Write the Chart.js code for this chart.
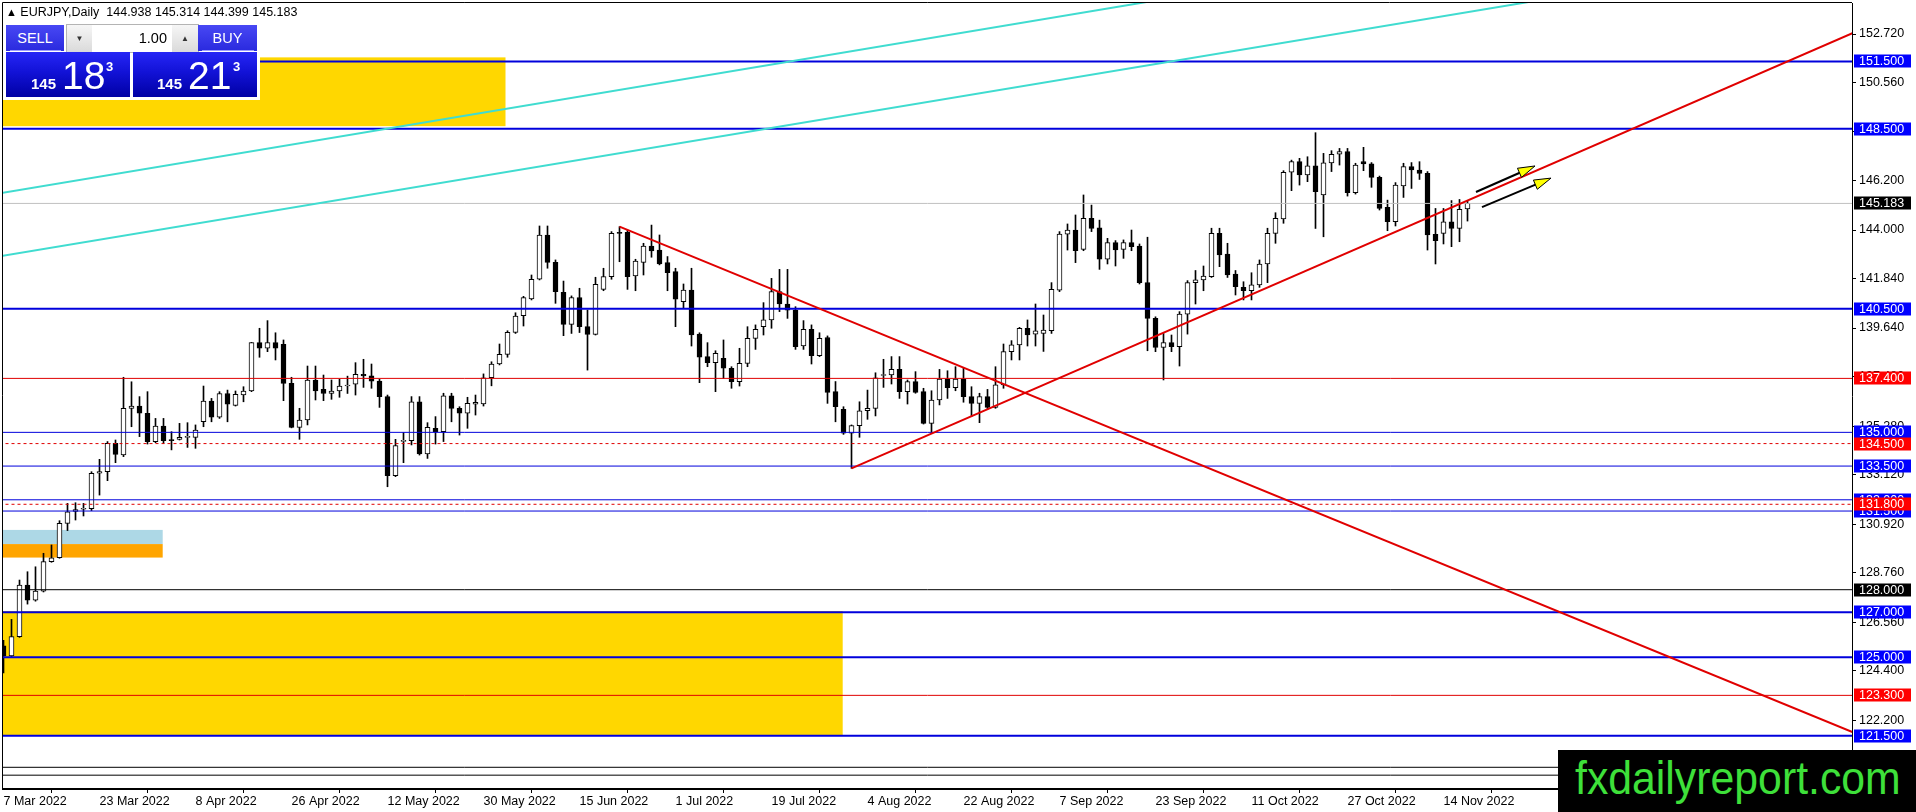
<!DOCTYPE html>
<html lang="en">
<head>
<meta charset="UTF-8">
<title>EURJPY,Daily</title>
<style>
    body { margin: 0; background: #fff; overflow: hidden; font-family: 'Liberation Sans', Arial, sans-serif; }
    #wrap { position: relative; width: 1916px; height: 812px; }
    #chart { position: absolute; left: 0; top: 0; }
    #head { position: absolute; left: 6px; top: 5px; font-size: 12.5px; line-height: 14px; color: #000; white-space: pre; }
    #head .tri { font-size: 11px; vertical-align: 0; }
    #panel { position: absolute; left: 3px; top: 23px; width: 257px; height: 77px; background: #fff; }
    .hd { position: absolute; top: 2px; height: 26px; line-height: 26px; color: #fff; font-size: 14.5px; text-align: center;
          background: linear-gradient(#4848f4, #2a2ade); }
    .hd:after { content: ''; position: absolute; left: 4px; right: 3px; bottom: 0; height: 1px; background: #9c9cff; }
    #sellHd { left: 3px; width: 58px; }
    #buyHd { left: 195px; width: 59px; }
    #lot { position: absolute; left: 63px; top: 1px; width: 131px; height: 27px; border: 1px solid #b4b4b4; background: #fff; }
    .spin { position: absolute; top: 0; width: 25px; height: 27px; line-height: 27px; text-align: center; font-size: 8px; color: #333;
            background: linear-gradient(#f6f6f6, #dadada); }
    #dn { left: 0; }
    #up { right: 0; width: 26px; }
    #lotVal { position: absolute; left: 25px; width: 75px; top: 0; height: 27px; line-height: 27px; text-align: right; font-size: 14.5px; color: #000; }
    .px { position: absolute; top: 29px; width: 124px; height: 45px; color: #fff;
          background: linear-gradient(#2626f6, #1212d6 45%, #0000a4); }
    #sellPx { left: 3px; }
    #buyPx { left: 130px; }
    .px span { position: absolute; line-height: 1; }
    .p1 { top: 24px; font-size: 15px; font-weight: bold; }
    .p2 { top: 4px; font-size: 39px; }
    .p3 { top: 8px; font-size: 13px; font-weight: bold; }
    #mark { position: absolute; left: 1558px; top: 750px; width: 358px; height: 62px; background: #000; overflow: hidden; }
    #mark span { position: absolute; left: 17px; top: 5px; font-size: 46px; line-height: 1; color: #3ee03a;
                 transform: scaleX(0.93); transform-origin: left top; white-space: nowrap; }
</style>
<script src="https://cdn.jsdelivr.net/npm/chart.js"></script>
</head>
<body>
<div id="wrap">
    <canvas id="chart" width="1916" height="812"></canvas>
    <div id="head"><span class="tri">▲</span> EURJPY,Daily  144.938 145.314 144.399 145.183</div>
    <div id="panel">
        <div class="hd" id="sellHd">SELL</div>
        <div id="lot"><div class="spin" id="dn">▼</div><div id="lotVal">1.00</div><div class="spin" id="up">▲</div></div>
        <div class="hd" id="buyHd">BUY</div>
        <div class="px" id="sellPx"><span class="p1" style="left:25px">145</span><span class="p2" style="left:56px">18</span><span class="p3" style="left:100px">3</span></div>
        <div class="px" id="buyPx"><span class="p1" style="left:24px">145</span><span class="p2" style="left:55px">21</span><span class="p3" style="left:100px">3</span></div>
    </div>
    <div id="mark"><span>fxdailyreport.com</span></div>
</div>
<script>
    // daily bars from 7 Mar 2022, one per weekday
    const opens = [
        125.50, 125.05, 125.91, 128.21, 127.54, 127.94, 129.25, 129.42, 130.95, 131.48,
        131.58, 131.60, 133.18, 133.25, 134.51, 134.00, 136.07, 136.17, 135.85, 134.59,
        135.28, 134.68, 134.69, 134.78, 134.78, 135.47, 136.39, 135.67, 136.73, 136.20,
        136.66, 136.84, 138.99, 138.74, 138.99, 138.91, 137.18, 135.22, 135.55, 137.33,
        136.91, 136.73, 136.84, 137.06, 137.14, 137.58, 137.51, 137.28, 136.59, 133.07,
        134.60, 134.63, 136.36, 134.04, 135.18, 135.03, 136.63, 136.07, 135.85, 136.25,
        136.26, 137.43, 138.04, 138.47, 139.45, 140.19, 140.93, 141.81, 143.78, 142.56,
        141.23, 139.80, 141.00, 139.70, 139.36, 141.36, 141.93, 143.90, 143.90, 141.96,
        142.56, 143.29, 143.11, 142.55, 142.15, 140.81, 141.33, 139.37, 138.37, 138.10,
        138.29, 137.85, 137.26, 138.07, 139.18, 139.70, 140.00, 141.26, 140.71, 140.44,
        138.84, 139.58, 138.41, 139.22, 136.81, 136.02, 134.96, 135.30, 135.96, 136.07,
        137.53, 137.55, 137.80, 136.81, 137.26, 136.81, 135.40, 136.44, 137.37, 136.99,
        137.37, 136.59, 136.29, 136.59, 136.11, 137.11, 138.59, 138.89, 139.63, 139.37,
        139.40, 139.52, 141.33, 143.82, 144.00, 143.14, 144.52, 144.10, 142.70, 143.44,
        143.14, 143.44, 143.29, 141.66, 140.07, 138.78, 138.99, 138.81, 140.26, 141.66,
        141.78, 141.92, 143.85, 142.93, 142.04, 141.45, 141.30, 141.56, 142.49, 143.85,
        144.49, 146.57, 147.04, 146.45, 146.86, 145.56, 146.99, 147.37, 147.49, 145.66,
        147.04, 146.94, 146.34, 145.01, 144.37, 145.96, 146.82, 146.67, 146.52, 143.81,
        143.85, 144.37, 144.07, 144.938
    ];
    const highs = [
        125.75, 126.68, 128.43, 128.80, 129.02, 129.62, 129.99, 131.07, 131.84, 131.87,
        131.84, 133.25, 133.80, 134.59, 134.66, 137.45, 137.25, 136.59, 136.81, 135.62,
        135.62, 135.03, 135.40, 135.43, 135.33, 137.06, 136.51, 136.81, 136.88, 136.84,
        137.03, 139.00, 139.63, 139.97, 139.43, 139.11, 137.45, 136.07, 137.95, 137.95,
        137.55, 137.33, 137.36, 137.50, 138.10, 138.25, 138.04, 137.36, 136.66, 134.69,
        134.99, 136.59, 136.59, 135.43, 135.70, 136.74, 136.74, 136.14, 136.56, 136.66,
        137.60, 138.14, 138.93, 139.52, 140.32, 141.05, 142.00, 144.18, 144.18, 142.67,
        141.73, 141.07, 141.41, 140.44, 141.90, 142.30, 143.93, 144.15, 144.00, 142.70,
        143.41, 144.22, 143.78, 142.82, 142.30, 141.60, 142.30, 139.43, 138.99, 138.63,
        139.11, 137.92, 138.74, 139.70, 139.78, 140.77, 141.85, 142.25, 142.25, 140.59,
        139.97, 139.78, 139.43, 139.29, 137.26, 136.14, 135.33, 136.36, 136.88, 137.65,
        138.25, 138.37, 138.37, 137.33, 137.70, 136.96, 136.85, 137.80, 137.74, 137.92,
        137.85, 137.03, 136.74, 136.91, 137.92, 138.93, 139.08, 139.67, 140.00, 140.71,
        140.22, 141.66, 143.93, 144.27, 144.67, 145.56, 145.11, 144.44, 143.63, 143.53,
        143.56, 144.00, 143.38, 143.68, 140.14, 139.40, 139.33, 140.37, 141.75, 142.20,
        142.40, 144.08, 144.08, 143.41, 142.20, 141.70, 142.10, 142.67, 144.08, 144.77,
        146.64, 147.11, 147.19, 147.26, 148.33, 147.41, 147.53, 147.63, 147.63, 146.97,
        147.68, 147.00, 146.40, 145.33, 146.11, 146.97, 147.00, 147.04, 146.60, 144.96,
        144.96, 145.31, 145.36, 145.314
    ];
    const lows = [
        124.30, 125.00, 125.88, 127.36, 127.49, 127.90, 129.22, 129.40, 130.63, 131.10,
        131.28, 131.52, 132.21, 132.85, 133.65, 133.92, 135.25, 134.81, 134.48, 134.54,
        134.51, 134.22, 134.66, 134.33, 134.29, 135.25, 135.47, 135.62, 135.47, 136.17,
        136.36, 136.81, 138.34, 138.59, 138.22, 136.41, 135.20, 134.69, 135.33, 136.44,
        136.41, 136.47, 136.56, 136.73, 136.66, 137.00, 136.96, 136.11, 132.58, 133.03,
        133.65, 134.44, 133.99, 133.84, 134.48, 134.59, 135.47, 134.88, 135.18, 135.77,
        136.17, 137.07, 138.00, 138.34, 139.40, 139.73, 140.89, 141.78, 142.30, 140.74,
        139.30, 139.40, 139.44, 137.77, 139.33, 141.30, 141.81, 142.59, 141.36, 141.30,
        142.00, 142.79, 142.45, 141.30, 139.70, 140.52, 138.84, 137.21, 137.92, 136.81,
        137.40, 136.96, 137.06, 137.92, 138.69, 139.33, 139.63, 140.37, 140.07, 138.69,
        138.69, 138.04, 138.37, 136.29, 135.47, 134.91, 133.40, 134.78, 135.58, 135.73,
        137.00, 137.15, 136.51, 136.26, 136.74, 135.37, 134.96, 136.22, 136.51, 136.85,
        136.34, 135.70, 135.43, 136.02, 136.07, 136.96, 138.22, 138.22, 138.84, 138.84,
        138.60, 139.40, 141.26, 143.11, 142.55, 143.08, 143.93, 142.25, 142.49, 142.40,
        142.74, 143.08, 141.60, 138.63, 138.59, 137.33, 138.59, 137.95, 139.37, 140.71,
        141.30, 141.89, 142.37, 141.89, 141.11, 140.89, 140.89, 141.45, 141.66, 143.41,
        144.30, 145.75, 146.00, 146.15, 144.07, 143.70, 146.60, 146.89, 145.51, 145.60,
        146.64, 145.90, 144.89, 143.97, 144.18, 145.45, 145.85, 146.25, 143.11, 142.49,
        143.38, 143.26, 143.48, 144.399
    ];
    const closes = [
        125.05, 125.91, 128.21, 127.54, 127.94, 129.25, 129.42, 130.95, 131.47, 131.57,
        131.61, 133.18, 133.25, 134.51, 134.02, 136.07, 136.17, 135.85, 134.59, 135.28,
        134.63, 134.63, 134.78, 134.81, 135.10, 136.39, 135.67, 136.73, 136.25, 136.69,
        136.84, 138.99, 138.74, 138.99, 138.74, 137.18, 135.22, 135.55, 137.33, 136.84,
        136.73, 136.84, 137.06, 137.09, 137.58, 137.51, 137.28, 136.59, 133.07, 134.41,
        134.64, 136.36, 134.04, 135.22, 135.03, 136.63, 136.07, 135.85, 136.29, 136.34,
        137.43, 138.04, 138.47, 139.45, 140.17, 140.99, 141.81, 143.78, 142.56, 141.26,
        139.80, 141.00, 139.70, 139.36, 141.59, 141.93, 143.85, 143.85, 141.93, 142.62,
        143.29, 143.07, 142.49, 142.10, 140.92, 141.33, 139.33, 138.34, 138.10, 138.51,
        137.85, 137.26, 138.07, 139.18, 139.58, 140.00, 141.26, 140.71, 140.44, 138.81,
        139.58, 138.41, 139.18, 136.78, 136.14, 134.96, 135.30, 135.96, 136.07, 137.43,
        137.56, 137.80, 136.81, 137.26, 136.78, 135.40, 136.44, 137.37, 136.99, 137.37,
        136.59, 136.29, 136.59, 136.11, 137.11, 138.59, 138.89, 139.63, 139.33, 139.52,
        139.55, 141.36, 143.82, 144.00, 143.08, 144.52, 144.07, 142.70, 143.44, 143.11,
        143.44, 143.26, 141.66, 140.07, 138.78, 138.99, 138.81, 140.26, 141.66, 141.78,
        141.95, 143.85, 142.89, 142.00, 141.48, 141.30, 141.56, 142.49, 143.85, 144.52,
        146.57, 147.04, 146.45, 146.86, 145.71, 146.99, 147.37, 147.49, 145.66, 146.89,
        146.94, 146.34, 144.96, 144.37, 146.00, 146.82, 146.67, 146.52, 143.78, 143.53,
        144.37, 144.07, 144.92, 145.183
    ];

    const dateTicks = [0, 12, 24, 36, 48, 60, 72, 84, 96, 108, 120, 132, 144, 156, 168, 180];
    const dateLabels = ['7 Mar 2022', '23 Mar 2022', '8 Apr 2022', '26 Apr 2022', '12 May 2022', '30 May 2022',
        '15 Jun 2022', '1 Jul 2022', '19 Jul 2022', '4 Aug 2022', '22 Aug 2022', '7 Sep 2022',
        '23 Sep 2022', '11 Oct 2022', '27 Oct 2022', '14 Nov 2022'];
    const priceTicks = [152.72, 150.56, 148.40, 146.20, 144.00, 141.84, 139.64, 137.48, 135.28,
        133.12, 130.92, 128.76, 126.56, 124.40, 122.20];

    // horizontal levels
    const blueLevels = [151.5, 148.5, 140.5, 127.0, 125.0, 121.5];
    const blueThinLevels = [135.0, 133.5, 132.0, 131.5];
    const redLevels = [137.4, 123.3];
    const redDashLevels = [134.5, 131.8];
    const blackLevels = [128.0, 120.1, 119.75];
    const bidPrice = 145.183;

    // trend lines: [bar, price] anchors
    const downTrend = [[77, 144.15], [240, 120.37]];
    const upTrend = [[106, 133.40], [240, 154.13]];
    const channelA = [[-1, 145.60], [160, 155.16]];
    const channelB = [[-1, 142.80], [210, 155.29]];

    // zones: [fromBar, toBar, low, high]
    const goldZones = [[-2, 62.75, 148.62, 151.68], [-2, 104.9, 121.5, 127.05]];
    const blueZone = [-2, 19.9, 130.03, 130.66];
    const orangeZone = [-2, 19.9, 129.43, 130.03];

    // arrows: [bar, price] tail -> tip
    const arrows = [
        [[184.06, 145.69], [191.44, 146.85]],
        [[184.81, 145.02], [193.44, 146.31]]
    ];

    const BLUE = '#0000dc', RED = '#e00000';
    const FONT = { family: 'Liberation Sans', size: 12.5 };

    function hLine(p, color, width, dash) {
        return {
            type: 'line', data: [{ x: -2, y: p }, { x: 240, y: p }],
            borderColor: color, borderWidth: width, borderDash: dash || [],
            pointRadius: 0, fill: false, order: 1
        };
    }

    function tLine(pts, color) {
        return {
            type: 'line', data: pts.map(p => ({ x: p[0], y: p[1] })),
            borderColor: color, borderWidth: 2, pointRadius: 0, fill: false, order: 0
        };
    }

    const lineSets = [
        tLine(downTrend, RED), tLine(upTrend, RED),
        tLine(channelA, '#40dcd0'), tLine(channelB, '#40dcd0'),
        hLine(bidPrice, '#c0c0c0', 1)
    ];
    blueLevels.forEach(p => lineSets.push(hLine(p, BLUE, 2)));
    blueThinLevels.forEach(p => lineSets.push(hLine(p, BLUE, 1)));
    redLevels.forEach(p => lineSets.push(hLine(p, RED, 1)));
    redDashLevels.forEach(p => lineSets.push(hLine(p, RED, 1, [3, 3])));
    blackLevels.forEach(p => lineSets.push(hLine(p, '#000', 1)));

    const bodyColors = opens.map((o, i) => closes[i] >= o ? '#ffffff' : '#000000');

    const zonePlugin = {
        id: 'zones',
        beforeDatasetsDraw(chart) {
            const { ctx, chartArea: a, scales: { x, y } } = chart;
            ctx.save();
            ctx.beginPath();
            ctx.rect(a.left, a.top, a.right - a.left, a.bottom - a.top);
            ctx.clip();
            const fillZone = (z, c) => {
                const x0 = x.getPixelForValue(z[0]), x1 = x.getPixelForValue(z[1]);
                const y0 = y.getPixelForValue(z[3]), y1 = y.getPixelForValue(z[2]);
                ctx.fillStyle = c;
                ctx.fillRect(x0, y0, x1 - x0, y1 - y0);
            };
            goldZones.forEach(z => fillZone(z, '#ffd700'));
            fillZone(blueZone, '#add8e6');
            fillZone(orangeZone, '#ffa500');
            ctx.restore();
        }
    };

    const arrowPlugin = {
        id: 'arrows',
        afterDatasetsDraw(chart) {
            const { ctx, chartArea: a, scales: { x, y } } = chart;
            ctx.save();
            arrows.forEach(ar => {
                const x0 = x.getPixelForValue(ar[0][0]), y0 = y.getPixelForValue(ar[0][1]);
                const x1 = x.getPixelForValue(ar[1][0]), y1 = y.getPixelForValue(ar[1][1]);
                const ang = Math.atan2(y1 - y0, x1 - x0), L = 17, W = 5;
                const bx = x1 - L * Math.cos(ang), by = y1 - L * Math.sin(ang);
                ctx.strokeStyle = '#000';
                ctx.lineWidth = 2;
                ctx.beginPath();
                ctx.moveTo(x0, y0);
                ctx.lineTo(bx + 4 * Math.cos(ang), by + 4 * Math.sin(ang));
                ctx.stroke();
                ctx.beginPath();
                ctx.moveTo(x1, y1);
                ctx.lineTo(bx + W * Math.sin(ang), by - W * Math.cos(ang));
                ctx.lineTo(bx - W * Math.sin(ang), by + W * Math.cos(ang));
                ctx.closePath();
                ctx.fillStyle = '#ffff00';
                ctx.fill();
                ctx.lineWidth = 1;
                ctx.stroke();
            });
            // chart frame, left and top
            ctx.strokeStyle = '#000';
            ctx.lineWidth = 1;
            ctx.beginPath();
            ctx.moveTo(a.left - 0.5, a.bottom);
            ctx.lineTo(a.left - 0.5, a.top - 0.5);
            ctx.lineTo(a.right, a.top - 0.5);
            ctx.stroke();
            ctx.restore();
        }
    };

    const boxPlugin = {
        id: 'priceBoxes',
        afterDraw(chart) {
            const { ctx, chartArea: a, scales: { y } } = chart;
            const list = [];
            blueLevels.concat(blueThinLevels).forEach(p => list.push([p, '#0000ff']));
            redLevels.concat(redDashLevels).forEach(p => list.push([p, '#ff0000']));
            blackLevels.forEach(p => list.push([p, '#000000']));
            list.push([bidPrice, '#000000']);
            ctx.save();
            ctx.font = '12.5px "Liberation Sans"';
            ctx.textBaseline = 'middle';
            ctx.textAlign = 'left';
            list.forEach(b => {
                const py = y.getPixelForValue(b[0]);
                ctx.fillStyle = b[1];
                ctx.fillRect(a.right + 2, Math.round(py) - 6.5, 57, 13);
                ctx.fillStyle = '#ffffff';
                ctx.fillText(b[0].toFixed(3), a.right + 7, py + 0.5);
            });
            ctx.restore();
        }
    };

    new Chart(document.getElementById('chart'), {
        type: 'bar',
        data: {
            datasets: lineSets.concat([
                {
                    type: 'bar',
                    data: opens.map((o, i) => ({ x: i, y: [o, closes[i]] })),
                    backgroundColor: bodyColors, borderColor: '#000', borderWidth: 1,
                    borderSkipped: false, barThickness: 5, minBarLength: 1, grouped: false, order: 5
                },
                {
                    type: 'bar',
                    data: opens.map((o, i) => ({ x: i, y: [lows[i], highs[i]] })),
                    backgroundColor: '#000', barThickness: 1, grouped: false, order: 6
                }
            ])
        },
        options: {
            responsive: false,
            devicePixelRatio: 1,
            animation: false,
            events: [],
            layout: { padding: { left: 3, top: 3, right: 0, bottom: 0 } },
            plugins: { legend: { display: false }, tooltip: { enabled: false } },
            scales: {
                x: {
                    type: 'linear', min: -0.0625, max: 231.0625, offset: false,
                    afterBuildTicks: s => { s.ticks = dateTicks.map(v => ({ value: v })); },
                    afterFit: s => { s.height = 23; s.paddingLeft = 0; s.paddingRight = 0; },
                    grid: { drawOnChartArea: false, drawTicks: true, tickLength: 4, color: '#000' },
                    border: { display: true, color: '#000', width: 2 },
                    ticks: {
                        align: 'start', maxRotation: 0, minRotation: 0, autoSkip: false, padding: 1,
                        color: '#000', font: FONT,
                        callback: v => { const k = dateTicks.indexOf(v); return k < 0 ? '' : dateLabels[k]; }
                    }
                },
                y: {
                    type: 'linear', position: 'right', min: 119.135, max: 154.099,
                    afterBuildTicks: s => { s.ticks = priceTicks.map(v => ({ value: v })); },
                    afterFit: s => { s.width = 64; s.paddingTop = 0; s.paddingBottom = 0; },
                    grid: { drawOnChartArea: false, drawTicks: true, tickLength: 4, color: '#000' },
                    border: { display: true, color: '#000', width: 1 },
                    ticks: { autoSkip: false, padding: 3, color: '#000', font: FONT, callback: v => v.toFixed(3) }
                }
            }
        },
        plugins: [zonePlugin, arrowPlugin, boxPlugin]
    });
</script>
</body>
</html>
